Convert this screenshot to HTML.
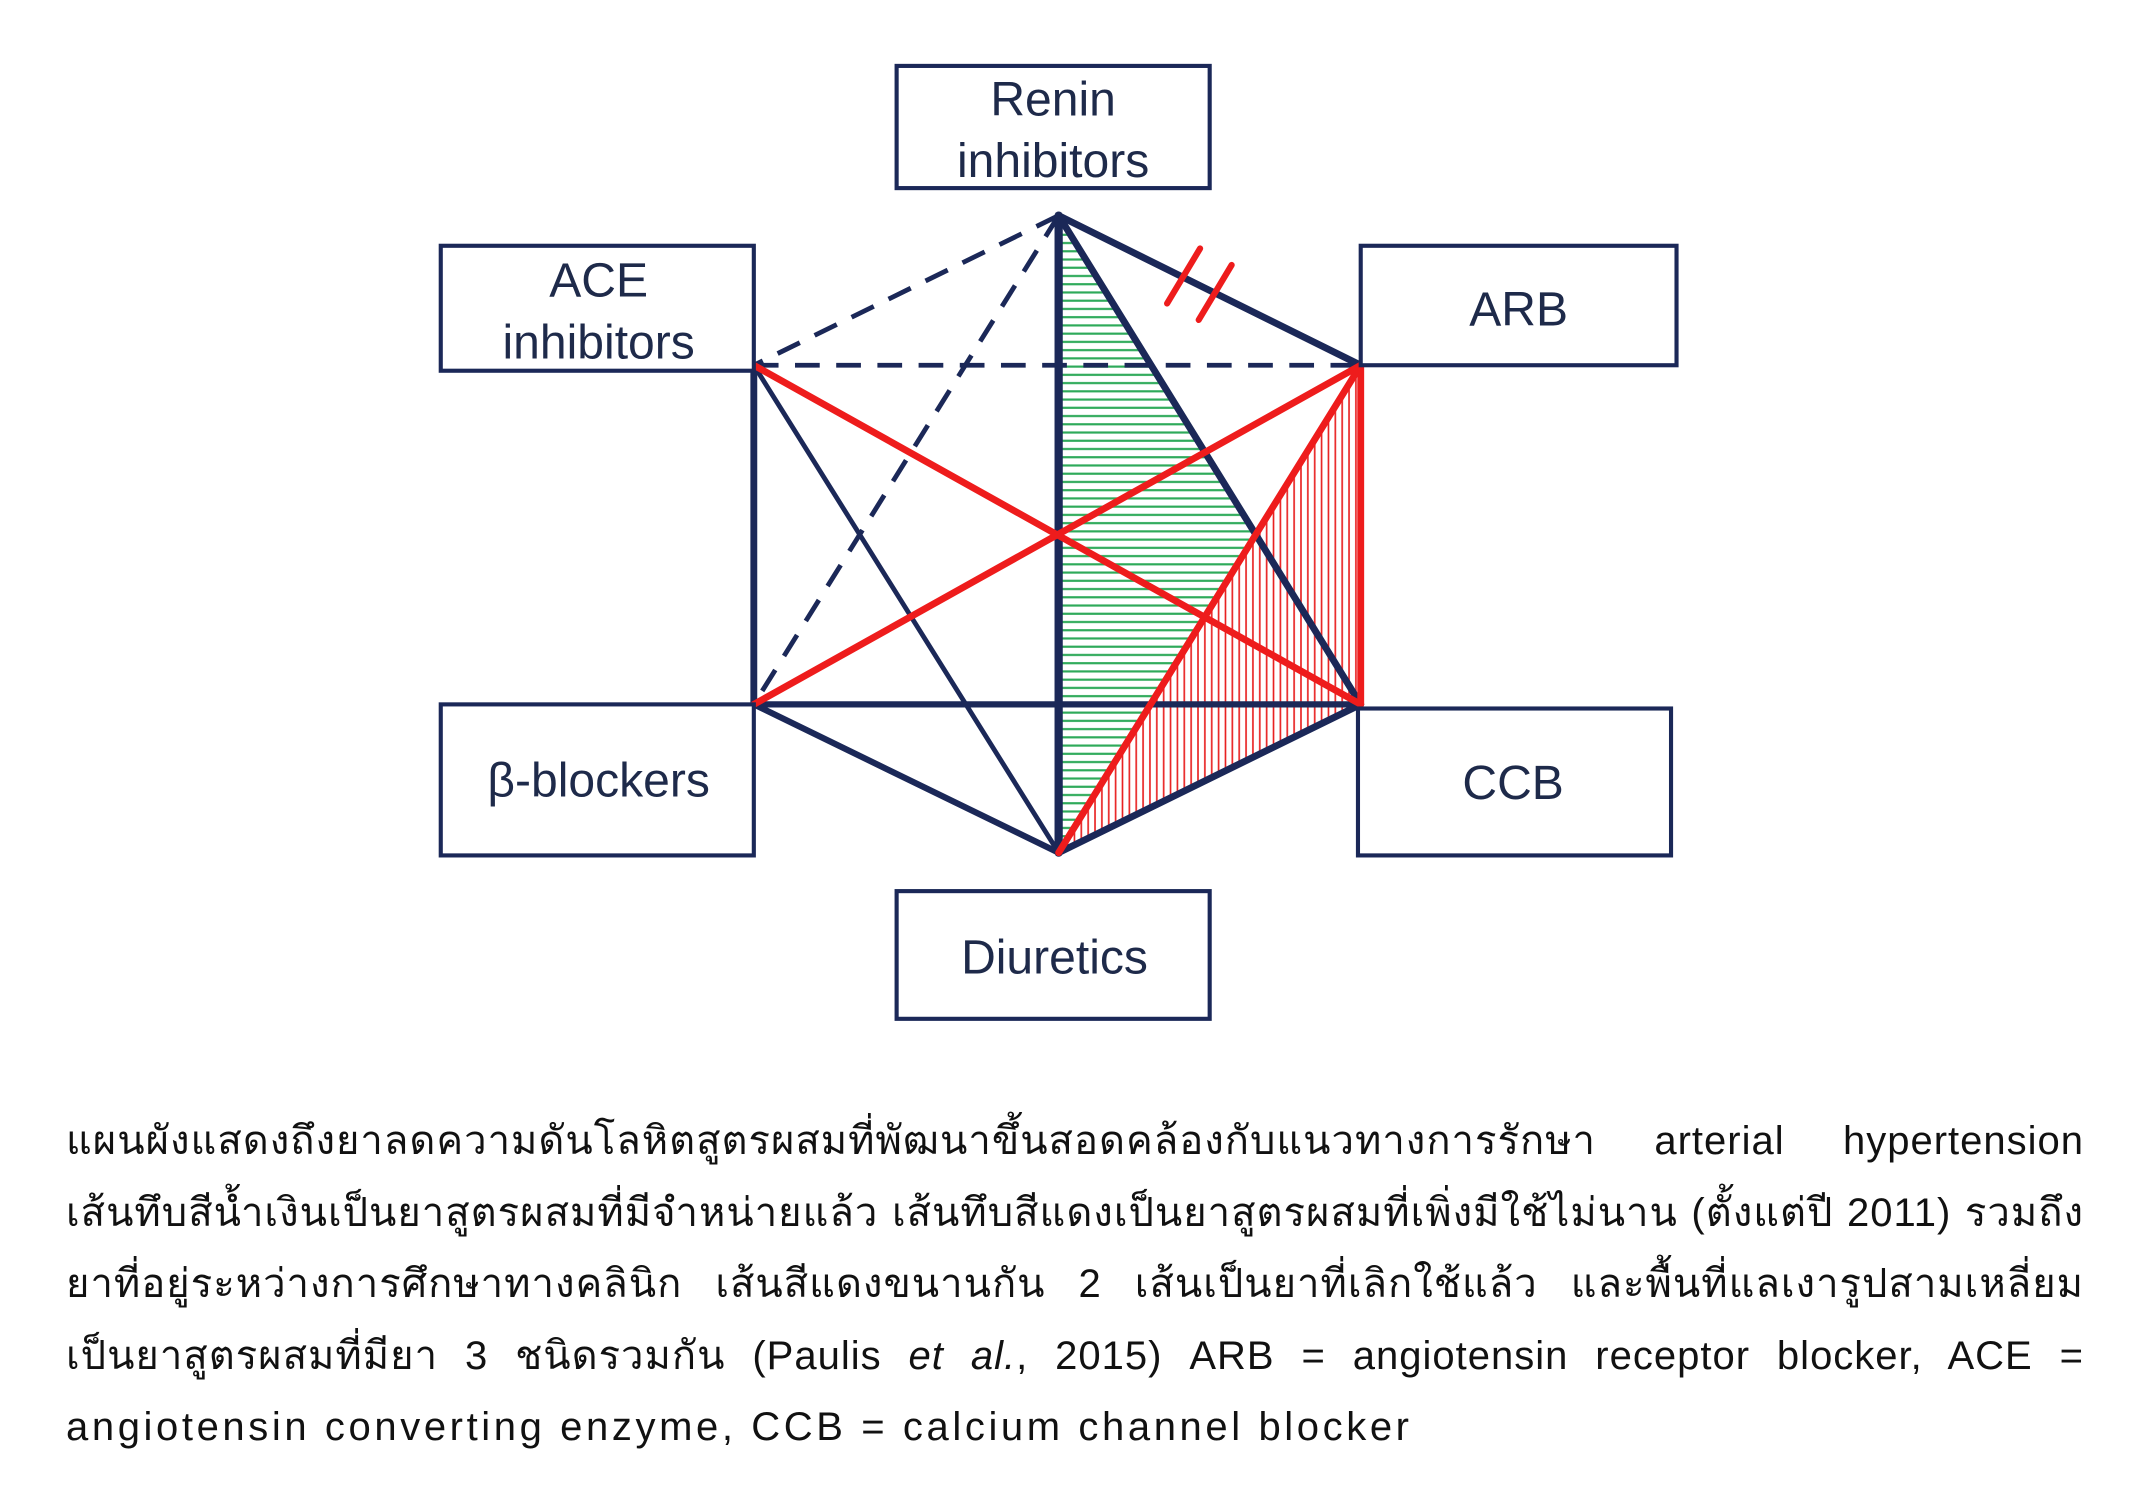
<!DOCTYPE html>
<html><head><meta charset="utf-8"><style>
html,body{margin:0;padding:0;background:#fff;}
body{width:2142px;height:1488px;position:relative;overflow:hidden;}
svg{position:absolute;left:0;top:0;}
#cap{position:absolute;left:66px;top:1106px;width:2018px;font-family:"Liberation Sans","DejaVu Sans",sans-serif;font-size:40px;line-height:71.5px;color:#111;}
#cap div{text-align:justify;text-align-last:justify;white-space:nowrap;height:71.5px;overflow:visible;letter-spacing:1px;}
#cap div.l{text-align-last:left;letter-spacing:3.6px;}
</style></head><body>
<svg width="2142" height="1488" viewBox="0 0 1560 1083.7" xmlns="http://www.w3.org/2000/svg">
<defs>
<pattern id="gh" width="8" height="6" patternUnits="userSpaceOnUse"><line x1="0" y1="3" x2="8" y2="3" stroke="#2eaa5a" stroke-width="1.6"/></pattern>
<pattern id="rv" width="5" height="8" patternUnits="userSpaceOnUse"><line x1="2.5" y1="0" x2="2.5" y2="8" stroke="#e82020" stroke-width="1.2"/></pattern>
</defs>
<polygon points="771,157 915,389 771,621" fill="url(#gh)"/>
<polygon points="991,266 991,513 771,621" fill="url(#rv)"/>
<g stroke="#1b2858" fill="none" stroke-width="3.5" stroke-dasharray="18,12">
<line x1="771" y1="157" x2="549" y2="266"/>
<line x1="771" y1="157" x2="549" y2="513"/>
<line x1="549" y1="266" x2="991" y2="266"/>
</g>
<g stroke="#1b2858" fill="none" stroke-linecap="round">
<line x1="771" y1="157" x2="991" y2="266" stroke-width="5"/>
<line x1="771" y1="157" x2="771" y2="621" stroke-width="6"/>
<line x1="771" y1="157" x2="991" y2="513" stroke-width="5"/>
<line x1="549" y1="266" x2="549" y2="513" stroke-width="5"/>
<line x1="549" y1="266" x2="771" y2="621" stroke-width="3.5"/>
<line x1="549" y1="513" x2="991" y2="513" stroke-width="4.5"/>
<line x1="549" y1="513" x2="771" y2="621" stroke-width="4.5"/>
<line x1="771" y1="621" x2="991" y2="513" stroke-width="5"/>
</g>
<g stroke="#ee1c1c" fill="none" stroke-width="5" stroke-linecap="round">
<line x1="549" y1="266" x2="991" y2="513"/>
<line x1="549" y1="513" x2="991" y2="266"/>
<line x1="991" y1="266" x2="991" y2="513"/>
<line x1="771" y1="621" x2="991" y2="266"/>
<line x1="850" y1="221" x2="874" y2="181" stroke-width="4.5"/>
<line x1="873" y1="233" x2="897" y2="193" stroke-width="4.5"/>
</g>
<g stroke="#1b2858" stroke-width="3" fill="#fff">
<rect x="653" y="48" width="228" height="89"/>
<rect x="321" y="179" width="228" height="91"/>
<rect x="991" y="179" width="230" height="87"/>
<rect x="321" y="513" width="228" height="110"/>
<rect x="989" y="516" width="228" height="107"/>
<rect x="653" y="649" width="228" height="93"/>
</g>
<g font-family="Liberation Sans, sans-serif" font-size="35" fill="#1e2a4a" text-anchor="middle">
<text x="767" y="84">Renin</text>
<text x="767" y="129">inhibitors</text>
<text x="436" y="216">ACE</text>
<text x="436" y="261">inhibitors</text>
<text x="1106" y="237">ARB</text>
<text x="436" y="580">β-blockers</text>
<text x="1102" y="582">CCB</text>
<text x="768" y="709">Diuretics</text>
</g>
</svg>
<div id="cap">
<div>แผนผังแสดงถึงยาลดความดันโลหิตสูตรผสมที่พัฒนาขึ้นสอดคล้องกับแนวทางการรักษา arterial hypertension</div>
<div>เส้นทึบสีน้ำเงินเป็นยาสูตรผสมที่มีจำหน่ายแล้ว เส้นทึบสีแดงเป็นยาสูตรผสมที่เพิ่งมีใช้ไม่นาน (ตั้งแต่ปี 2011) รวมถึง</div>
<div>ยาที่อยู่ระหว่างการศึกษาทางคลินิก เส้นสีแดงขนานกัน 2 เส้นเป็นยาที่เลิกใช้แล้ว และพื้นที่แลเงารูปสามเหลี่ยม</div>
<div>เป็นยาสูตรผสมที่มียา 3 ชนิดรวมกัน (Paulis <i>et al.</i>, 2015) ARB = angiotensin receptor blocker, ACE =</div>
<div class="l">angiotensin converting enzyme, CCB = calcium channel blocker</div>
</div>
</body></html>
